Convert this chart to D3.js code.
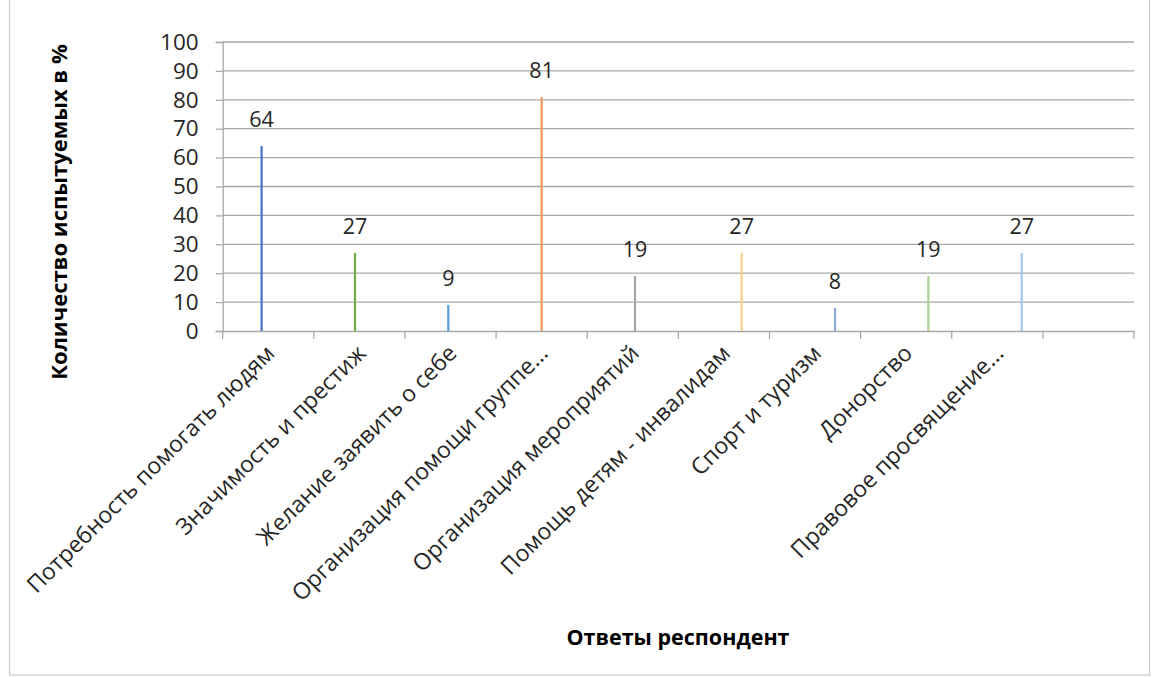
<!DOCTYPE html>
<html><head><meta charset="utf-8">
<script src="https://cdn.jsdelivr.net/npm/d3@7"></script>
<style>body{margin:0;background:#fff}svg{display:block}text{font-family:"Open Sans",sans-serif}</style>
</head><body>
<svg id="c" width="1154" height="677"></svg>
<script>
const categories = ["Потребность помогать людям","Значимость и престиж","Желание заявить о себе","Организация помощи группе...","Организация мероприятий","Помощь детям - инвалидам","Спорт и туризм","Донорство","Правовое просвящение...",""];
const values = [64,27,9,81,19,27,8,19,27];
const seriesIndex = [8,9,10,11,12,19,20,21,22];
const seriesCount = 23;
const colors = ["#4472C4","#70AD47","#5B9BD5","#F29A5C","#A5A5A5","#FFD08A","#8FA8DC","#A9D18E","#A4C6EC"];
const yTicks = [0,10,20,30,40,50,60,70,80,90,100];
const yTitle = "Количество испытуемых в %";
const xTitle = "Ответы респондент";

const svg = d3.select("#c");
svg.append("rect").attr("x",9.5).attr("y",-5).attr("width",1140).attr("height",680)
  .attr("fill","none").attr("stroke","#C8C8C8").attr("stroke-width",1.2);

const x = d3.scaleBand().domain(d3.range(categories.length)).range([222.7,1134]).padding(0);
const y = d3.scaleLinear().domain([0,100]).range([331,42]);
const inner = d3.scaleBand().domain(d3.range(seriesCount)).range([x.bandwidth()*0.22, x.bandwidth()*0.78]);

// gridlines
svg.append("g").selectAll("line").data(yTicks.filter(d=>d>0)).join("line")
  .attr("x1",x.range()[0]).attr("x2",x.range()[1])
  .attr("y1",d=>y(d)).attr("y2",d=>y(d))
  .attr("stroke","#A9A9A9").attr("stroke-width",1.3);

// y axis
const ya = svg.append("g").attr("transform",`translate(${x.range()[0]},0)`)
  .call(d3.axisLeft(y).tickValues(yTicks).tickSize(7).tickPadding(17));
ya.select(".domain").attr("stroke","#A9A9A9").attr("stroke-width",1.3);
ya.selectAll(".tick line").attr("stroke","#A9A9A9").attr("stroke-width",1.3);
ya.selectAll(".tick text").attr("font-family","Open Sans").attr("font-size",22.5).attr("fill","#262626");

// x axis
const xa = svg.append("g").attr("transform",`translate(0,${y(0)})`)
  .call(d3.axisBottom(x).tickSize(0).tickFormat(""));
xa.select(".domain").attr("stroke","#A9A9A9").attr("stroke-width",1.3);
svg.append("g").selectAll("line").data(d3.range(categories.length+1)).join("line")
  .attr("x1",d=>x.range()[0]+d*x.step()).attr("x2",d=>x.range()[0]+d*x.step())
  .attr("y1",y(0)).attr("y2",y(0)+8).attr("stroke","#A9A9A9").attr("stroke-width",1.3);

// bars
const bars = values.map((v,i)=>({v,i,s:seriesIndex[i]}));
svg.append("g").selectAll("rect").data(bars).join("rect")
  .attr("x",d=>x(d.i)+inner(d.s)).attr("width",inner.bandwidth())
  .attr("y",d=>y(d.v)).attr("height",d=>y(0)-y(d.v))
  .attr("fill",(d,i)=>colors[i]);

// data labels
svg.append("g").selectAll("text").data(bars).join("text")
  .attr("x",d=>x(d.i)+inner(d.s)+inner.bandwidth()/2).attr("y",d=>y(d.v)-19)
  .attr("text-anchor","middle").attr("font-size",21.5).attr("fill","#262626")
  .text(d=>d.v);

// category labels
svg.append("g").selectAll("text").data(categories).join("text")
  .attr("transform",(d,i)=>`translate(${x(i)+x.bandwidth()/2+2},${y(0)+18}) rotate(-45)`)
  .attr("text-anchor","end").attr("dy","0.35em")
  .attr("font-size",23).attr("fill","#262626").text(d=>d);

// titles
svg.append("text").attr("transform","translate(67,212) rotate(-90)").attr("text-anchor","middle")
  .attr("font-size",22).attr("font-weight","bold").attr("fill","#000").text(yTitle);
svg.append("text").attr("x",678).attr("y",645).attr("text-anchor","middle")
  .attr("font-size",21.5).attr("font-weight","bold").attr("fill","#000").text(xTitle);
</script>
</body></html>
